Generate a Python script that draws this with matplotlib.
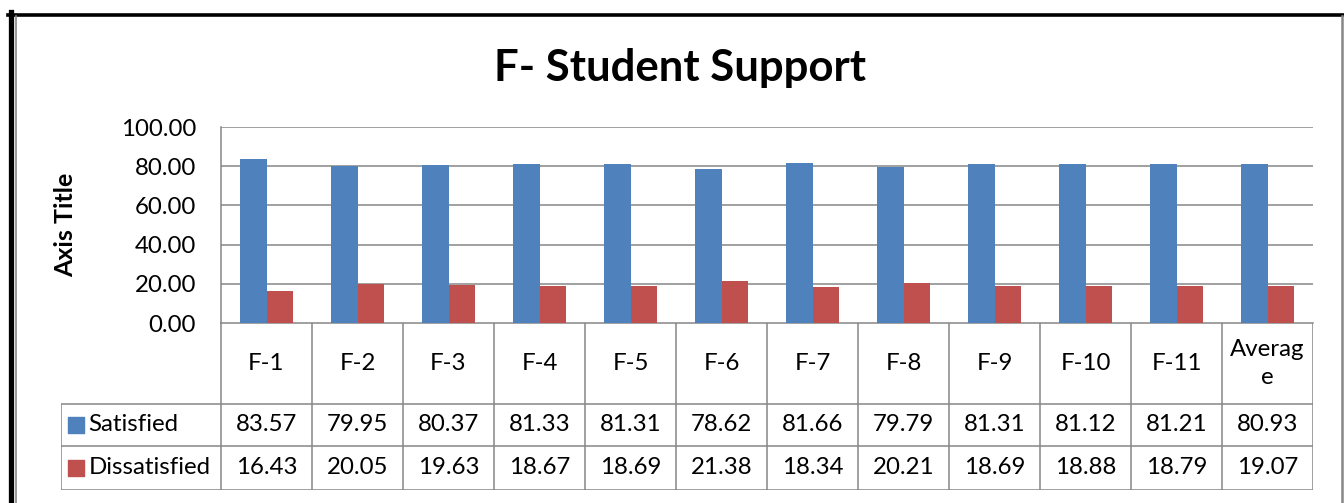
import matplotlib.pyplot as plt
from matplotlib.lines import Line2D

# data
categories = ['F-1', 'F-2', 'F-3', 'F-4', 'F-5', 'F-6', 'F-7', 'F-8', 'F-9', 'F-10', 'F-11', 'Averag\ne']
satisfied = [83.57, 79.95, 80.37, 81.33, 81.31, 78.62, 81.66, 79.79, 81.31, 81.12, 81.21, 80.93]
dissatisfied = [16.43, 20.05, 19.63, 18.67, 18.69, 21.38, 18.34, 20.21, 18.69, 18.88, 18.79, 19.07]
series_names = ['Satisfied', 'Dissatisfied']
yticks = [0, 20, 40, 60, 80, 100]

BLUE = '#4F81BD'
RED = '#C0504D'
GRID = '#868686'
FONT = 'Lato'
TXT = 17.3

W, H = 1344, 503
fig = plt.figure(figsize=(W / 100, H / 100), dpi=100)


def box(l, t, r, b):
    # pixel box -> figure fraction rect
    return [l / W, 1 - b / H, (r - l) / W, (b - t) / H]


# frame round the picture
fig.add_artist(Line2D([10.5 / W, 10.5 / W], [0, 1 - 12 / H], color='black', lw=3.8, transform=fig.transFigure))
fig.add_artist(Line2D([8 / W, 1], [1 - 14.5 / H, 1 - 14.5 / H], color='black', lw=2.6, transform=fig.transFigure))
fig.add_artist(Line2D([15.5 / W, 15.5 / W], [0, 1 - 16 / H], color=GRID, lw=1.2, transform=fig.transFigure))
fig.add_artist(Line2D([1341.5 / W, 1341.5 / W], [0, 1 - 16 / H], color=GRID, lw=1.8, transform=fig.transFigure))

# bar area
ax = fig.add_axes(box(221, 127, 1313, 323))
x = list(range(len(categories)))
bw = 0.286
ax.bar([i - bw / 2 for i in x], satisfied, width=bw, color=BLUE, zorder=3)
ax.bar([i + bw / 2 for i in x], dissatisfied, width=bw, color=RED, zorder=3)
ax.set_xlim(-0.5, len(categories) - 0.5)
ax.set_ylim(0, 100)
ax.set_yticks(yticks)
ax.set_yticklabels(['%.2f' % v for v in yticks], fontsize=TXT, family=FONT)
ax.tick_params(axis='y', length=0, pad=18)
ax.set_xticks([])
for v in yticks[1:]:
    ax.axhline(v, color=GRID, lw=1.1, zorder=1)
for s in ['top', 'right']:
    ax.spines[s].set_visible(False)
ax.spines['left'].set_color(GRID)
ax.spines['bottom'].set_color(GRID)
ax.spines['left'].set_linewidth(1.1)
ax.spines['bottom'].set_linewidth(1.1)

fig.text(680 / W, 1 - 68 / H, 'F- Student Support', ha='center', va='center',
         fontsize=31.5, fontweight='bold', family=FONT)
fig.text(66 / W, 1 - 225 / H, 'Axis Title', ha='center', va='center', rotation=90,
         fontsize=18, fontweight='bold', family=FONT)

# data table under the axis, columns line up with the bar groups
tab = fig.add_axes(box(61, 323, 1313, 490))
lab_w = 160 / 91
x0 = -0.5 - lab_w
tab.set_xlim(x0, len(categories) - 0.5)
tab.set_ylim(490, 323)
tab.axis('off')
row_head, row_sat, row_dis, row_end = 323, 404, 446, 490
lk = dict(color=GRID, lw=1.1, solid_capstyle='butt')
for i in range(len(categories) + 1):
    tab.plot([i - 0.5, i - 0.5], [row_head, row_end], **lk)
tab.plot([x0, x0], [row_sat, row_end], **lk)
for yy in [row_sat, row_dis, row_end]:
    tab.plot([x0, len(categories) - 0.5], [yy, yy], **lk)

for i, c in enumerate(categories):
    tab.text(i, (row_head + row_sat) / 2, c, ha='center', va='center', fontsize=TXT,
             family=FONT, linespacing=1.4)
    tab.text(i, (row_sat + row_dis) / 2, '%.2f' % satisfied[i], ha='center', va='center',
             fontsize=TXT, family=FONT)
    tab.text(i, (row_dis + row_end) / 2, '%.2f' % dissatisfied[i], ha='center', va='center',
             fontsize=TXT, family=FONT)

for name, col, (ya, yb) in zip(series_names, [BLUE, RED], [(row_sat, row_dis), (row_dis, row_end)]):
    ym = (ya + yb) / 2
    tab.scatter([x0 + 0.17], [ym], marker='s', s=120, color=col)
    tab.text(x0 + 0.3, ym, name, ha='left', va='center', fontsize=TXT, family=FONT)

fig.savefig('out.png', dpi=100)
